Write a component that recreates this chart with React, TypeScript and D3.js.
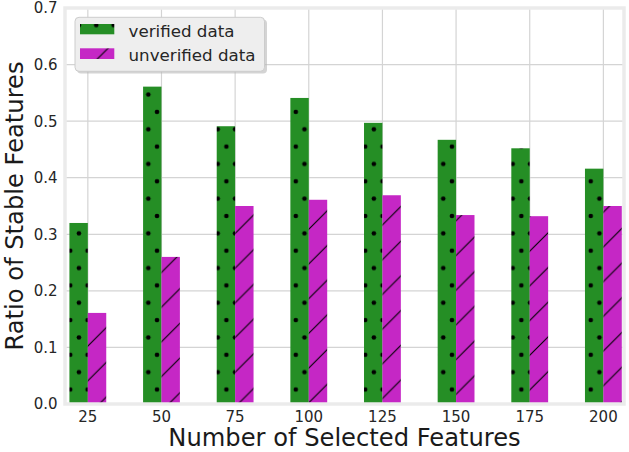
import React from "react";
import * as d3 from "d3";

const categories = ["25", "50", "75", "100", "125", "150", "175", "200"];
const verified = [0.32, 0.561, 0.491, 0.541, 0.497, 0.467, 0.452, 0.416];
const unverified = [0.161, 0.26, 0.35, 0.361, 0.369, 0.334, 0.332, 0.35];
const yTicks = [0.0, 0.1, 0.2, 0.3, 0.4, 0.5, 0.6, 0.7];
const seriesNames = ["verified data", "unverified data"];

const W = 629;
const H = 452;
const left = 65;
const right = 624;
const top = 8;
const bottom = 404;
const GREEN = "#258e25";
const MAG = "#c527c5";
const FONT = "'DejaVu Sans', sans-serif";

export default function App() {
  const x = d3.scaleLinear().domain([-0.31, 7.28]).range([left, right]);
  const y = d3.scaleLinear().domain([0, 0.7]).range([bottom, top]);
  const bw = x(0.25) - x(0);
  const P = 17.35;
  const L = 34.7;

  return (
    <svg width={W} height={H} style={{ position: "absolute", left: 0, top: 0 }} fontFamily={FONT}>
      <defs>
        <pattern id="dots" patternUnits="userSpaceOnUse" x={0.85} y={7.8} width={P} height={2 * P}>
          <rect width={P} height={2 * P} fill={GREEN} />
          {[[0, 0], [P, 0], [0, 2 * P], [P, 2 * P], [P / 2, P]].map(([cx, cy], i) => (
            <circle key={i} cx={cx} cy={cy} r={2.3} fill="#000" />
          ))}
        </pattern>
        <pattern id="lines" patternUnits="userSpaceOnUse" x={17.5} y={0} width={L} height={L}>
          <rect width={L} height={L} fill={MAG} />
          <path d={`M0,${L}L${L},0M-5,5L5,-5M${L - 5},${L + 5}L${L + 5},${L - 5}`} stroke="#000" strokeWidth={1.1} />
        </pattern>
        <clipPath id="plot">
          <rect x={left} y={top} width={right - left} height={bottom - top} />
        </clipPath>
      </defs>
      <rect x={left} y={top} width={right - left} height={bottom - top} fill="#fff" />
      {yTicks.map((t) => (
        <line key={"gy" + t} x1={left} x2={right} y1={y(t)} y2={y(t)} stroke="#d4d4d4" strokeWidth={1.2} />
      ))}
      {categories.map((c, i) => (
        <line key={"gx" + c} x1={x(i)} x2={x(i)} y1={top} y2={bottom} stroke="#d4d4d4" strokeWidth={1.2} />
      ))}
      <g clipPath="url(#plot)">
        {verified.map((v, i) => (
          <rect key={"v" + i} x={x(i) - bw} y={y(v)} width={bw} height={y(0) - y(v)} fill="url(#dots)" />
        ))}
        {unverified.map((v, i) => (
          <rect key={"u" + i} x={x(i)} y={y(v)} width={bw} height={y(0) - y(v)} fill="url(#lines)" />
        ))}
      </g>
      <rect x={left} y={top} width={right - left} height={bottom - top} fill="none" stroke="#ebebeb" strokeWidth={3.5} />
      {yTicks.map((t) => (
        <text key={"yl" + t} x={57.5} y={y(t) + 5.4} textAnchor="end" fontSize={15} fill="#262626">
          {t.toFixed(1)}
        </text>
      ))}
      {categories.map((c, i) => (
        <text key={"xl" + c} x={x(i)} y={421.5} textAnchor="middle" fontSize={15} fill="#262626">
          {c}
        </text>
      ))}
      <text x={(left + right) / 2} y={446} textAnchor="middle" fontSize={24.2} fill="#1a1a1a">
        Number of Selected Features
      </text>
      <text
        transform={`translate(23,${(top + bottom) / 2}) rotate(-90)`}
        textAnchor="middle"
        fontSize={24.2}
        fill="#1a1a1a"
      >
        Ratio of Stable Features
      </text>
      <rect x={77} y={19.5} width={190} height={54} rx={4} fill="#b8b8b8" opacity={0.6} />
      <rect x={75} y={17.3} width={189.5} height={54} rx={4} fill="#eeeeee" stroke="#cccccc" strokeWidth={1} />
      <rect x={80} y={24} width={34.3} height={10.3} fill="url(#dots)" />
      <rect x={80} y={48.3} width={34.3} height={10.7} fill="url(#lines)" />
      <text x={128.5} y={36.5} fontSize={16.7} fill="#262626">{seriesNames[0]}</text>
      <text x={128.5} y={60.5} fontSize={16.7} fill="#262626">{seriesNames[1]}</text>
    </svg>
  );
}
